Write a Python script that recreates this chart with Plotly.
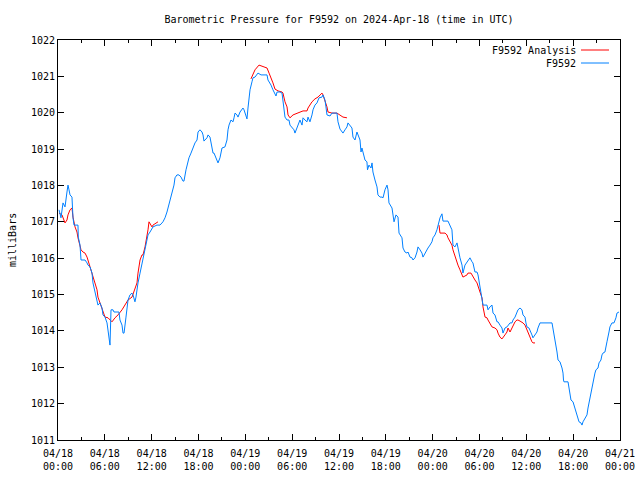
import plotly.graph_objects as go

# ---- data (hours since 2024-04-18 00:00 UTC, pressure in mbar) ----
obs_hours = [0.13,0.38,0.64,0.90,1.15,1.28,1.41,1.54,1.79,1.85,1.92,2.05,2.56,2.60,2.82,2.95,3.46,3.72,3.84,4.10,
 4.36,4.48,4.74,5.00,5.12,5.38,5.64,5.76,6.02,6.28,6.41,6.66,6.79,7.05,7.17,7.81,7.94,8.20,8.33,8.46,
 8.71,8.84,8.97,9.22,9.48,9.61,9.86,9.99,10.12,10.25,10.51,10.76,10.89,11.15,11.40,11.53,11.79,12.04,12.17,12.68,
 13.07,13.45,13.71,13.96,14.09,14.35,14.60,14.73,14.86,14.99,15.24,15.50,15.76,16.01,16.14,16.40,16.53,16.78,17.04,17.29,
 17.55,17.81,17.94,18.19,18.45,18.58,18.70,19.09,19.22,19.47,19.60,19.73,19.86,19.99,20.24,20.50,20.75,21.01,21.39,21.65,
 21.78,21.91,22.16,22.42,22.55,22.68,22.93,23.06,23.32,23.70,23.83,24.08,24.21,24.34,24.60,24.85,24.98,25.24,25.62,26.01,
 26.78,26.90,27.29,27.54,27.80,27.93,28.06,28.44,28.70,28.82,28.95,29.08,29.34,29.59,29.72,29.98,30.23,30.36,30.62,30.75,
 31.00,31.26,31.39,31.64,31.90,32.03,32.28,32.54,32.67,32.92,33.18,33.44,33.82,33.95,34.20,34.33,34.46,34.85,35.10,35.74,
 35.87,36.13,36.51,36.77,37.02,37.15,37.41,37.66,37.79,38.05,38.30,38.43,38.69,38.82,38.94,39.07,39.33,39.58,39.65,39.84,
 40.10,40.23,40.35,40.61,40.87,40.99,41.25,41.51,41.64,41.89,42.15,42.28,42.40,42.79,42.92,43.05,43.30,43.56,43.69,44.07,
 44.20,44.45,44.71,44.84,45.10,45.35,45.48,45.74,45.99,46.12,46.38,46.63,46.76,47.02,47.27,47.40,47.66,47.91,48.04,48.30,
 48.55,48.68,48.94,49.19,49.32,49.96,50.22,50.47,50.60,50.86,51.12,51.24,51.50,51.76,51.88,52.14,52.40,52.52,52.78,53.04,
 53.16,53.42,53.68,53.81,54.06,54.32,54.45,54.96,55.09,55.34,55.60,55.73,55.98,56.24,56.37,56.62,56.88,57.01,57.26,57.52,
 57.65,57.91,58.16,58.29,58.55,58.80,58.93,59.19,59.44,59.57,59.83,59.95,60.08,60.34,60.60,60.72,60.85,61.11,61.36,61.49,
 61.75,63.29,63.41,63.67,63.80,63.93,64.06,64.31,64.57,64.70,64.76,64.82,65.34,65.46,65.59,65.72,65.98,66.10,66.36,66.49,
 66.62,66.75,67.00,67.13,67.26,67.51,67.77,67.90,68.03,68.15,68.28,68.41,68.54,68.79,68.92,69.18,69.31,69.56,69.69,69.82,
 70.07,70.20,70.33,70.59,70.71,70.97,71.23,71.48,71.61,71.87]
obs_mbar = [1017.33,1017.11,1017.52,1017.41,1017.82,1018.01,1017.88,1017.74,1017.68,1017.33,1017.11,1016.91,1016.91,1016.58,1016.36,1015.95,1015.95,1015.87,1015.81,1015.76,
 1015.59,1015.32,1015.04,1014.85,1014.71,1014.77,1014.63,1014.44,1014.38,1014.22,1014.03,1013.61,1014.58,1014.58,1014.52,1014.52,1014.30,1014.16,1013.94,1013.94,
 1014.38,1014.66,1014.85,1014.99,1015.04,1014.99,1014.80,1014.93,1015.18,1015.32,1015.59,1015.87,1016.03,1016.31,1016.50,1016.64,1016.72,1016.83,1016.86,1016.91,
 1016.91,1017.00,1017.11,1017.27,1017.38,1017.52,1017.79,1017.88,1018.01,1018.21,1018.29,1018.29,1018.23,1018.12,1018.12,1018.43,1018.56,1018.76,1018.89,1019.06,
 1019.17,1019.25,1019.47,1019.53,1019.47,1019.39,1019.22,1019.31,1019.39,1019.33,1019.20,1018.98,1018.89,1018.89,1018.76,1018.62,1018.76,1019.03,1019.06,1019.25,
 1019.53,1019.66,1019.80,1019.75,1019.86,1019.99,1019.94,1019.88,1020.02,1020.13,1020.08,1019.94,1019.83,1020.13,1020.63,1020.85,1020.96,1020.98,1021.09,1021.04,
 1021.04,1020.90,1020.76,1020.63,1020.49,1020.46,1020.57,1020.57,1020.54,1020.35,1020.16,1019.88,1019.80,1019.80,1019.66,1019.58,1019.53,1019.44,1019.61,1019.66,
 1019.80,1019.66,1019.86,1019.80,1019.75,1019.88,1019.75,1019.94,1020.08,1020.21,1020.27,1020.41,1020.43,1020.49,1020.35,1020.16,1019.94,1019.91,1019.99,1019.99,
 1019.75,1019.55,1019.44,1019.53,1019.61,1019.72,1019.66,1019.58,1019.33,1019.25,1019.47,1019.39,1019.25,1018.92,1019.03,1018.92,1018.70,1018.65,1018.43,1018.56,
 1018.48,1018.62,1018.37,1018.15,1017.96,1017.74,1017.68,1017.68,1017.66,1017.88,1018.01,1017.88,1017.52,1017.38,1017.24,1017.00,1017.19,1017.13,1016.69,1016.56,
 1016.28,1016.17,1016.14,1016.17,1016.03,1016.01,1015.95,1016.01,1016.17,1016.31,1016.23,1016.14,1016.03,1016.14,1016.23,1016.28,1016.36,1016.45,1016.56,1016.64,
 1016.78,1016.91,1017.11,1017.22,1017.02,1017.02,1016.91,1016.78,1016.36,1016.31,1016.42,1016.28,1016.01,1015.81,1015.59,1015.81,1015.90,1015.95,1016.01,1015.90,
 1015.87,1015.62,1015.62,1015.54,1015.21,1014.93,1014.71,1014.71,1014.58,1014.66,1014.71,1014.49,1014.44,1014.25,1014.25,1014.16,1014.08,1013.94,1014.08,1014.11,
 1014.16,1014.22,1014.22,1014.30,1014.38,1014.49,1014.58,1014.63,1014.58,1014.44,1014.38,1014.22,1014.11,1014.08,1013.97,1013.89,1013.81,1013.89,1013.97,1014.08,
 1014.22,1014.22,1014.08,1013.83,1013.61,1013.42,1013.20,1013.15,1012.98,1012.84,1012.65,1012.60,1012.60,1012.46,1012.24,1012.10,1012.05,1011.96,1011.83,1011.74,
 1011.63,1011.50,1011.47,1011.41,1011.50,1011.61,1011.69,1011.88,1012.02,1012.16,1012.29,1012.46,1012.65,1012.84,1012.93,1012.98,1013.12,1013.20,1013.34,1013.39,
 1013.42,1013.53,1013.70,1013.97,1014.11,1014.22,1014.22,1014.36,1014.49,1014.52]

# analysis series: three segments separated by gaps (None)
ana_hours = [0.13,0.51,0.90,1.15,1.28,1.54,1.79,1.92,2.18,2.43,2.56,2.82,2.95,3.20,3.46,3.72,3.84,4.10,4.36,4.48,
 4.74,5.00,5.12,5.38,5.76,6.02,6.41,6.92,7.30,7.69,8.20,8.58,8.97,9.48,9.86,10.12,10.25,10.51,10.76,10.89,
 11.15,11.40,11.53,11.66,12.04,12.17,12.68,12.81,
 None,
 24.72,25.24,25.75,26.26,26.78,27.04,27.42,27.54,27.80,28.19,28.70,28.82,29.08,29.34,29.47,29.72,30.11,30.62,31.00,31.39,
 31.90,32.03,32.54,32.92,33.31,33.82,33.95,34.20,34.46,34.59,35.10,35.74,36.13,36.51,37.02,
 None,
 48.81,48.94,49.58,49.83,49.96,50.22,50.47,50.60,50.86,51.12,51.24,51.50,51.76,51.88,52.40,52.52,52.91,53.16,53.42,53.68,
 53.81,54.06,54.32,54.45,54.71,54.96,55.09,55.34,55.60,55.98,56.24,56.37,56.62,56.88,57.01,57.26,57.52,57.65,57.91,58.16,
 58.29,58.55,58.80,58.93,59.19,59.57,59.83,60.08,60.21,60.47,60.72,60.85,61.11]
ana_mbar = [1017.24,1017.19,1016.97,1017.05,1017.19,1017.33,1017.38,1017.13,1016.86,1016.72,1016.56,1016.36,1016.23,1016.17,1016.14,1016.03,1015.95,1015.76,1015.59,1015.46,
 1015.32,1015.13,1014.93,1014.77,1014.49,1014.38,1014.36,1014.25,1014.36,1014.44,1014.58,1014.71,1014.85,1014.93,1015.13,1015.32,1015.59,1015.95,1016.09,1016.09,
 1016.31,1016.58,1016.78,1017.00,1016.86,1016.91,1017.00,1017.00,
 None,
 1020.93,1021.18,1021.31,1021.26,1021.23,1021.09,1020.90,1020.82,1020.65,1020.60,1020.57,1020.54,1020.30,1020.16,1019.94,1019.86,1019.94,1019.99,1020.02,1020.05,
 1020.05,1020.13,1020.30,1020.38,1020.43,1020.54,1020.49,1020.35,1020.16,1020.02,1019.99,1019.99,1019.94,1019.88,1019.86,
 None,
 1016.91,1016.69,1016.69,1016.64,1016.56,1016.45,1016.36,1016.23,1016.03,1015.90,1015.81,1015.68,1015.54,1015.48,1015.54,1015.59,1015.59,1015.48,1015.40,1015.32,
 1015.21,1015.07,1014.91,1014.66,1014.38,1014.36,1014.30,1014.22,1014.11,1014.08,1014.03,1013.94,1013.83,1013.78,1013.81,1013.89,1013.97,1014.08,1013.97,1014.08,
 1014.16,1014.25,1014.30,1014.30,1014.27,1014.22,1014.16,1014.03,1013.94,1013.83,1013.70,1013.67,1013.67]

tick_hours = [0, 6, 12, 18, 24, 30, 36, 42, 48, 54, 60, 66, 72]
tick_labels = ["04/18<br>00:00", "04/18<br>06:00", "04/18<br>12:00", "04/18<br>18:00",
               "04/19<br>00:00", "04/19<br>06:00", "04/19<br>12:00", "04/19<br>18:00",
               "04/20<br>00:00", "04/20<br>06:00", "04/20<br>12:00", "04/20<br>18:00",
               "04/21<br>00:00"]
y_ticks = list(range(1011, 1023))

series_names = ["F9592 Analysis", "F9592"]
series_colors = ["#ff0000", "#0080ff"]

FONT = "DejaVu Sans Mono, Liberation Mono, monospace"
L, R, T, B = 58, 20, 40, 40
PW, PH = 640 - L - R, 480 - T - B

fig = go.Figure()
fig.add_trace(go.Scatter(x=ana_hours, y=ana_mbar, mode="lines", name=series_names[0],
                         line=dict(color=series_colors[0], width=1), connectgaps=False,
                         showlegend=False))
fig.add_trace(go.Scatter(x=obs_hours, y=obs_mbar, mode="lines", name=series_names[1],
                         line=dict(color=series_colors[1], width=1), showlegend=False))

# gnuplot-style legend: right-aligned text with line sample on the right
for i, (nm, col) in enumerate(zip(series_names, series_colors)):
    ypix = 50 + i * 13
    yp = 1 - (ypix - T) / PH
    fig.add_annotation(xref="paper", yref="paper", x=(575 - L) / PW, y=yp,
                       text=nm, showarrow=False, xanchor="right", yanchor="middle",
                       xshift=3, font=dict(family=FONT, size=10, color="black"))
    fig.add_shape(type="line", xref="paper", yref="paper",
                  x0=(581 - L) / PW, x1=(609 - L) / PW, y0=yp, y1=yp,
                  line=dict(color=col, width=1))

# y-axis title placed like gnuplot's
fig.add_annotation(xref="paper", yref="paper", x=(12 - L) / PW, y=0.5, text="milliBars",
                   textangle=-90, showarrow=False, xanchor="center", yanchor="middle",
                   font=dict(family=FONT, size=10, color="black"))

fig.update_layout(
    width=640, height=480,
    margin=dict(l=L, r=R, t=T, b=B, autoexpand=False),
    paper_bgcolor="white", plot_bgcolor="white",
    font=dict(family=FONT, size=10, color="black"),
    title=dict(text="Barometric Pressure for F9592 on 2024-Apr-18 (time in UTC)",
               x=(L + 640 - R) / 2 / 640, xanchor="center", y=1 - 19 / 480, yanchor="middle",
               font=dict(family=FONT, size=10, color="black")),
    showlegend=False,
)
fig.update_xaxes(range=[0, 72], tickvals=tick_hours, ticktext=tick_labels, automargin=False,
                 showgrid=False, zeroline=False, showline=True, linecolor="black", linewidth=1,
                 mirror="allticks", ticks="inside", ticklen=6, tickcolor="black",
                 ticklabelstandoff=4,
                 minor=dict(ticks="inside", ticklen=3, dtick=3, tick0=0, tickcolor="black", showgrid=False),
                 tickfont=dict(family=FONT, size=10))
fig.update_yaxes(range=[1011, 1022], tickvals=y_ticks, automargin=False,
                 showgrid=False, zeroline=False, showline=True, linecolor="black", linewidth=1,
                 mirror="allticks", ticks="inside", ticklen=6, tickcolor="black",
                 tickfont=dict(family=FONT, size=10))

fig.write_html("out.html", config={"displayModeBar": False, "staticPlot": True},
               post_script="document.body.style.margin='0';")
